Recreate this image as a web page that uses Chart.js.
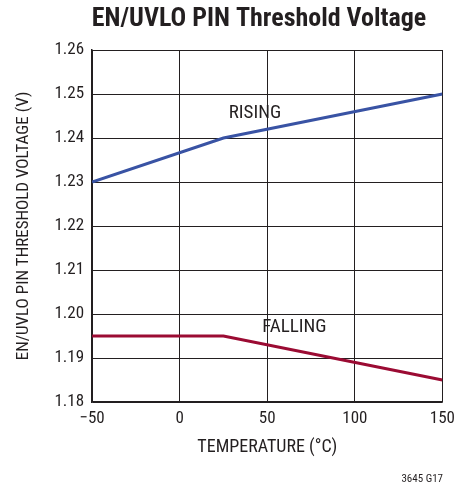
<!DOCTYPE html>
<html>
<head>
<meta charset="utf-8">
<script src="https://cdn.jsdelivr.net/npm/chart.js@4"></script>
<style>
  html, body { margin: 0; padding: 0; background: #fff; }
  #wrap { position: relative; width: 462px; height: 487px; }
</style>
</head>
<body>
<div id="wrap"><canvas id="c"></canvas></div>
<script>
// Threshold voltage vs temperature
const risingTemp = [-50, 25, 150];
const risingVolt = [1.230, 1.240, 1.250];
const fallingTemp = [-50, 25, 150];
const fallingVolt = [1.195, 1.195, 1.185];
const xTicks = [-50, 0, 50, 100, 150];
const yTicks = [1.18, 1.19, 1.20, 1.21, 1.22, 1.23, 1.24, 1.25, 1.26];

const FONT = "'Liberation Sans Narrow', 'Roboto Condensed', 'Liberation Sans', sans-serif";

// title, labels inside the plot and the figure code
const annotate = {
    id: "annotate",
    afterDraw(chart) {
        const c = chart.ctx;
        const x = chart.scales.x, y = chart.scales.y;
        c.save();
        c.fillStyle = "#231f20";
        c.textAlign = "center";
        c.textBaseline = "middle";
        c.font = "bold 26px " + FONT;
        c.fillText("EN/UVLO PIN Threshold Voltage", 259, 19);
        c.font = "19px " + FONT;
        c.fillText("RISING", x.getPixelForValue(43), y.getPixelForValue(1.2456));
        c.fillText("FALLING", x.getPixelForValue(65.5), y.getPixelForValue(1.1969));
        c.font = "11px " + FONT;
        c.textAlign = "right";
        c.fillText("3645 G17", 443, 479);
        c.restore();
    },
};

new Chart(document.getElementById("c"), {
    type: "line",
    data: {
        datasets: [
            {
                label: "RISING",
                data: risingTemp.map((t, i) => ({ x: t, y: risingVolt[i] })),
                borderColor: "#3953a4",
                borderWidth: 3,
                pointRadius: 0,
                tension: 0,
            },
            {
                label: "FALLING",
                data: fallingTemp.map((t, i) => ({ x: t, y: fallingVolt[i] })),
                borderColor: "#9b0b33",
                borderWidth: 3,
                pointRadius: 0,
                tension: 0,
            },
        ],
    },
    options: {
        responsive: true,
        maintainAspectRatio: false,
        animation: false,
        layout: { padding: { left: 10, right: 18, top: 50, bottom: 25 } },
        plugins: {
            legend: { display: false },
            tooltip: { enabled: false },
            title: { display: false },
        },
        scales: {
            x: {
                type: "linear",
                min: -50,
                max: 150,
                afterBuildTicks: (s) => { s.ticks = xTicks.map((v) => ({ value: v })); },
                grid: { color: "#231f20", lineWidth: 1, drawTicks: false },
                border: { color: "#231f20", width: 1.5 },
                ticks: {
                    color: "#231f20",
                    padding: 7,
                    font: { family: FONT, size: 17 },
                    callback: (v) => (v < 0 ? "\u2212" + Math.abs(v) : String(v)),
                },
                title: {
                    display: true,
                    text: "TEMPERATURE (\u00B0C)",
                    color: "#231f20",
                    font: { family: FONT, size: 18 },
                    padding: { top: 0 },
                },
            },
            y: {
                min: 1.18,
                max: 1.26,
                afterBuildTicks: (s) => { s.ticks = yTicks.map((v) => ({ value: v })); },
                grid: { color: "#231f20", lineWidth: 1, drawTicks: false },
                border: { color: "#231f20", width: 1.5 },
                ticks: {
                    color: "#231f20",
                    padding: 8,
                    font: { family: FONT, size: 17 },
                    callback: (v) => v.toFixed(2),
                },
                title: {
                    display: true,
                    text: "EN/UVLO PIN THRESHOLD VOLTAGE (V)",
                    color: "#231f20",
                    font: { family: FONT, size: 17 },
                    padding: { bottom: 12 },
                },
            },
        },
    },
    plugins: [annotate],
});
</script>
</body>
</html>
